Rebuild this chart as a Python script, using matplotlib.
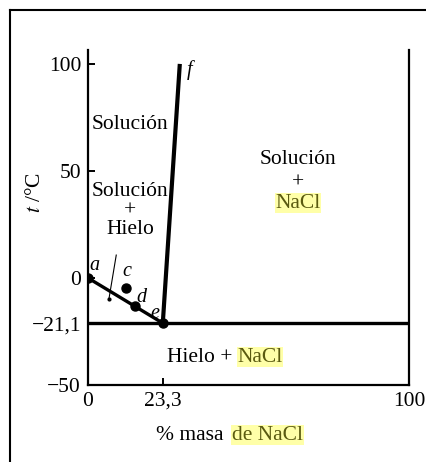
import matplotlib
matplotlib.use("Agg")
from matplotlib import pyplot as plt
from matplotlib.lines import Line2D

plt.rcParams['font.family'] = ['Liberation Serif', 'DejaVu Serif']
plt.rcParams['mathtext.fontset'] = 'stix'

# datos del diagrama (esquema NaCl - agua)
eut_x = 23.3
eut_t = -21.1
curva_x = [0, eut_x]          # a -> e (solucion + hielo)
curva_t = [0, eut_t]
f_x = [eut_x, 28.6]           # e -> f
f_t = [eut_t, 100]
puntos_x = [0, 14.7, eut_x]   # a, d, e
puntos_t = [0, -13.3, eut_t]
c_x, c_t = 11.7, -4.5
enfr_x = [8.8, 6.5]           # recorrido de enfriamiento
enfr_t = [10.7, -10.0]

yticks = [100, 50, 0, eut_t, -50]
ytick_labels = ['100', '50', '0', '\u221221,1', '\u221250']
xticks = [0, eut_x, 100]
xtick_labels = ['0', '23,3', '100']

hl = dict(facecolor='#ffffa8', edgecolor='none', pad=0.4)
hl_color = '#5a5a10'
fs = 15.5

fig = plt.figure(figsize=(4.27, 4.62), dpi=100)
ax = fig.add_axes([88 / 427, 77 / 462, 321 / 427, 335 / 462])
ax.set_xlim(0, 100)
ax.set_ylim(-50, 106.5)

ax.spines['top'].set_visible(False)
for s in ['left', 'bottom', 'right']:
    ax.spines[s].set_linewidth(1.6)

# eutectica
ax.plot([0, 100], [eut_t, eut_t], color='black', lw=2.4, solid_capstyle='butt')
ax.plot(curva_x, curva_t, color='black', lw=2.4)
ax.plot(f_x, f_t, color='black', lw=3.0, solid_capstyle='butt')
ax.plot(puntos_x, puntos_t, 'o', color='black', ms=6.5)
ax.plot([c_x], [c_t], 'o', color='black', ms=6.5)
ax.plot(enfr_x, enfr_t, color='black', lw=0.8)
ax.plot(enfr_x[1:], enfr_t[1:], 'o', color='black', ms=2)

ax.set_yticks(yticks)
ax.set_yticklabels(ytick_labels)
ax.set_xticks(xticks)
ax.set_xticklabels(xtick_labels)
ax.tick_params(direction='in', length=5, width=1.4, labelsize=fs, pad=5)

# letras de los puntos
for txt, x, y in [('a', 2.0, 6.0), ('c', 12.0, 3.0), ('d', 16.5, -9.0),
                  ('e', 20.8, -16.5), ('f', 31.6, 97.0)]:
    ax.text(x, y, txt, fontsize=fs - 1, style='italic', ha='center', va='center')

# regiones
ax.text(13.2, 71.9, 'Solución', fontsize=fs, ha='center', va='center')
ax.text(13.2, 31.3, 'Solución\n+\nHielo', fontsize=fs, ha='center', va='center',
        linespacing=1.0)
ax.text(65.4, 55.5, 'Solución', fontsize=fs, ha='center', va='center')
ax.text(65.4, 44.5, '+', fontsize=fs, ha='center', va='center')
ax.text(65.4, 35.0, 'NaCl', fontsize=fs, ha='center', va='center',
        color=hl_color, bbox=hl)
ax.text(46.5, -37, 'Hielo + ', fontsize=fs, ha='right', va='center')
ax.text(46.5, -37, 'NaCl', fontsize=fs, ha='left', va='center',
        color=hl_color, bbox=hl)

# ejes
ax.set_ylabel('$t$ /°C', fontsize=fs)
ax.yaxis.set_label_coords(-0.135, 0.576)
fig.text(0.537, 0.058, '% masa ', fontsize=fs, ha='right', va='center')
fig.text(0.543, 0.058, 'de NaCl', fontsize=fs, ha='left', va='center',
         color=hl_color, bbox=hl)

# marco exterior
fig.add_artist(Line2D([10 / 427, 1], [1 - 10 / 462, 1 - 10 / 462],
                      transform=fig.transFigure, color='black', lw=1.5))
fig.add_artist(Line2D([10 / 427, 10 / 427], [0, 1 - 10 / 462],
                      transform=fig.transFigure, color='black', lw=1.5))

fig.savefig('out.png', dpi=100)
